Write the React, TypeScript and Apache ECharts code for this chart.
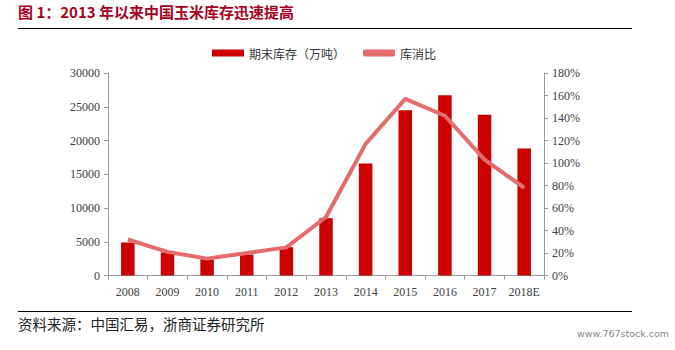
import React, { useEffect, useRef } from "react";
import * as echarts from "echarts";

const categories = ["2008", "2009", "2010", "2011", "2012", "2013", "2014", "2015", "2016", "2017", "2018E"];
const stockValues = [4900, 3400, 2400, 3100, 4200, 8500, 16600, 24500, 26700, 23800, 18800];
const ratioValues = [32, 21, 15, 20, 25, 52, 117, 157, 142, 103, 78];
const barName = "期末库存（万吨）";
const lineName = "库消比";
const titleText = "图 1：2013 年以来中国玉米库存迅速提高";
const sourceText = "资料来源：中国汇易，浙商证券研究所";
const watermark = "www.767stock.com";

const serif = "'Liberation Serif', 'Times New Roman', serif";
const cjk = "'Noto Sans CJK SC', sans-serif";

export default function App() {
  const ref = useRef<HTMLDivElement>(null);
  useEffect(() => {
    const chart = echarts.init(ref.current!, null, { renderer: "svg" });
    chart.setOption({
      animation: false,
      backgroundColor: "#ffffff",
      grid: { left: 108, right: 131, top: 73, bottom: 74.5, containLabel: false },
      legend: {
        top: 42,
        left: 207,
        itemGap: 18,
        itemWidth: 32,
        itemHeight: 7,
        textStyle: { fontFamily: cjk, fontSize: 12, color: "#333" },
        data: [
          { name: barName, icon: "rect" },
          { name: lineName, icon: "roundRect" },
        ],
      },
      xAxis: {
        type: "category",
        data: categories,
        axisLine: { lineStyle: { color: "#999", width: 1 } },
        axisTick: { show: true, alignWithLabel: false, length: 4, lineStyle: { color: "#999" } },
        axisLabel: { fontFamily: serif, fontSize: 12, color: "#404040", margin: 10, interval: 0 },
      },
      yAxis: [
        {
          type: "value",
          min: 0,
          max: 30000,
          interval: 5000,
          splitLine: { show: false },
          axisLine: { show: true, lineStyle: { color: "#999" } },
          axisTick: { show: true, length: 4, lineStyle: { color: "#999" } },
          axisLabel: {
            fontFamily: serif,
            fontSize: 12,
            color: "#404040",
            margin: 8,
            formatter: (v: number) => String(v),
          },
        },
        {
          type: "value",
          min: 0,
          max: 180,
          interval: 20,
          splitLine: { show: false },
          axisLine: { show: true, lineStyle: { color: "#999" } },
          axisTick: { show: true, length: 4, lineStyle: { color: "#999" } },
          axisLabel: { fontFamily: serif, fontSize: 12, color: "#404040", margin: 8, formatter: "{value}%" },
        },
      ],
      series: [
        {
          name: barName,
          type: "bar",
          data: stockValues,
          barWidth: 13.5,
          itemStyle: { color: "#cc0000" },
          yAxisIndex: 0,
        },
        {
          name: lineName,
          type: "line",
          data: ratioValues,
          yAxisIndex: 1,
          symbol: "none",
          lineStyle: { color: "#e46c6c", width: 4 },
          itemStyle: { color: "#e46c6c" },
        },
      ],
      graphic: [
        {
          type: "text",
          left: 18,
          top: 4,
          style: { text: titleText, font: `bold 15px ${cjk}`, fill: "#a50021" },
        },
        {
          type: "line",
          shape: { x1: 18, y1: 28.5, x2: 632, y2: 28.5 },
          style: { stroke: "#000", lineWidth: 1 },
        },
        {
          type: "line",
          shape: { x1: 18, y1: 311.5, x2: 632, y2: 311.5 },
          style: { stroke: "#000", lineWidth: 1 },
        },
        {
          type: "text",
          left: 18,
          top: 316,
          style: { text: sourceText, font: `14.5px ${cjk}`, fill: "#222" },
        },
        {
          type: "text",
          left: 577,
          top: 328,
          style: { text: watermark, font: `9.5px 'DejaVu Sans', sans-serif`, fill: "#888" },
        },
      ],
    });
    return () => chart.dispose();
  }, []);
  return (
    <div
      ref={ref}
      style={{ position: "fixed", left: 0, top: 0, width: 675, height: 350, background: "#fff" }}
    />
  );
}
